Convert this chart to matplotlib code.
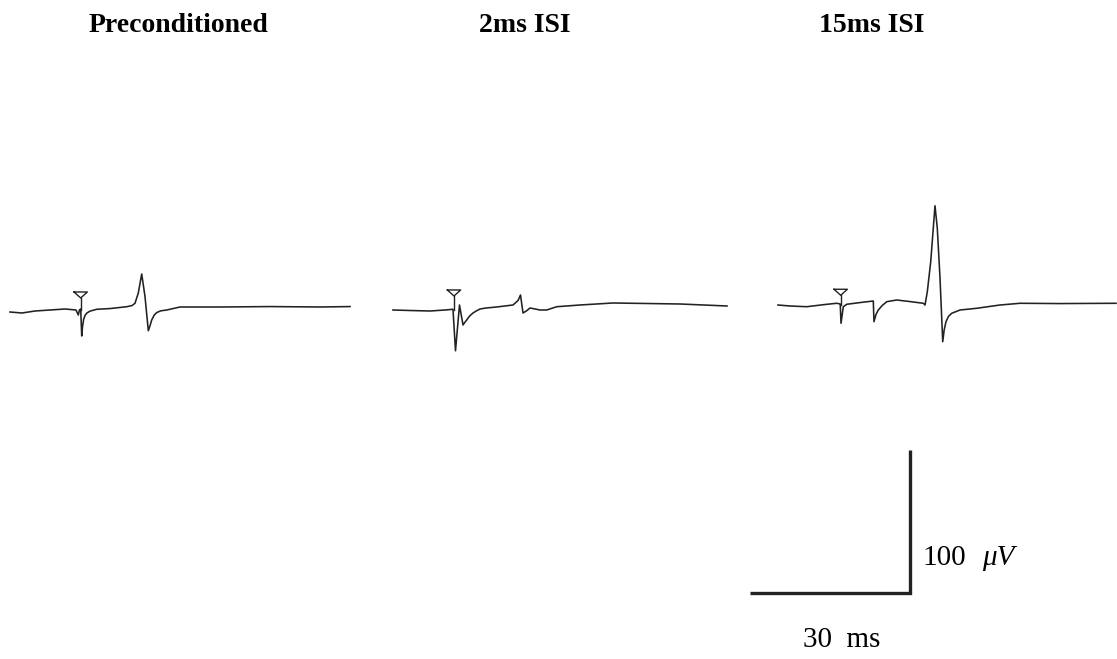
import matplotlib
matplotlib.use("Agg")
import matplotlib.pyplot as plt

# Recorded responses: time (ms, relative to the conditioning stimulus) and amplitude (µV)
titles = ["Preconditioned", "2ms ISI", "15ms ISI"]

pre_t = [-13.26, -11.01, -8.57, -5.76, -2.94, -0.88, -0.45, -0.23, 0.0, 0.19, 0.35, 0.55,
         0.81, 1.2, 1.74, 3.0, 5.49, 8.63, 9.62, 10.18, 10.8, 11.44, 12.06, 12.68, 13.0,
         13.31, 13.8, 14.25, 15.0, 16.13, 18.62, 26.12, 35.5, 44.87, 50.5]
pre_v = [-1.4, -2.1, -0.7, 0.0, 0.7, 0.0, -3.5, 0.0, 0.7, -18.2, -11.5, -6.5,
         -3.8, -2.0, -0.8, 0.5, 1.0, 2.3, 3.1, 4.7, 11.9, 25.2, 9.3, -14.5, -11.0,
         -7.0, -3.5, -1.8, -0.6, 0.0, 2.1, 2.1, 2.4, 2.1, 2.4]

isi2_t = [-11.44, -8.25, -4.5, -1.69, -0.19, 0.28, 1.03, 1.69, 2.0, 2.38, 2.9, 3.56,
          4.2, 4.88, 6.0, 8.0, 11.06, 12.0, 12.47, 12.94, 13.63, 14.25, 14.81, 16.13,
          17.38, 19.26, 23.63, 29.81, 42.38, 51.19]
isi2_v = [0.0, -0.35, -0.7, 0.0, 0.5, -28.5, 3.5, -10.5, -8.8, -7.0, -4.3, -2.1,
          -0.6, 0.7, 1.4, 2.1, 3.5, 6.6, 10.5, -2.1, -0.5, 1.4, 1.0, 0.0,
          0.0, 2.3, 3.5, 4.9, 4.2, 2.8]

isi15_t = [-11.76, -9.51, -6.38, -2.94, -0.75, -0.09, 0.06, 0.49, 1.13, 3.62, 6.11, 6.24,
           6.6, 7.05, 7.8, 8.63, 10.5, 12.99, 15.49, 15.81, 16.24, 16.88, 17.68, 18.11,
           18.62, 19.13, 19.4, 19.74, 20.2, 20.81, 22.37, 25.5, 29.87, 33.62, 41.12, 51.62]
isi15_v = [0.0, -0.7, -1.2, 0.35, 1.2, 0.7, -12.8, -1.2, 0.5, 1.7, 2.8, -11.7,
           -6.8, -3.5, -0.3, 2.3, 3.5, 2.4, 1.2, 0.0, 9.3, 30.3, 69.4, 53.8,
           18.9, -25.7, -17.5, -11.7, -8.0, -5.8, -3.5, -2.3, 0.0, 1.2, 1.0, 1.2]

traces = [(pre_t, pre_v), (isi2_t, isi2_v), (isi15_t, isi15_v)]

# Scale bar values
bar_ms = 30
bar_uv = 100

# ---- layout (figure drawn on a common ms / µV grid) ----
W, H = 1117, 659
PX_PER_MS = 160 / 30.0
PX_PER_UV = 143 / 100.0

fig = plt.figure(figsize=(W / 100, H / 100), dpi=100)
ax = fig.add_axes([0, 0, 1, 1])
ax.set_xlim(0, W / PX_PER_MS)
ax.set_ylim(0, H / PX_PER_UV)
ax.axis("off")


def px_x(p):
    return p / PX_PER_MS


def px_y(p):
    return (H - p) / PX_PER_UV


ink = "#222222"
serif = "Liberation Serif"
stim_x = [px_x(80.7), px_x(454), px_x(840.7)]
base_y = [px_y(310), px_y(310), px_y(305)]
marker_top = [12.6, 14.0, 11.0]   # µV above baseline
title_x = [178, 525, 872]

for (t, v), sx, by, mt, tx, title in zip(traces, stim_x, base_y, marker_top, title_x, titles):
    ax.plot([sx + ti for ti in t], [by + vi for vi in v], color=ink, lw=1.15,
            solid_joinstyle="round")
    # stimulus marker: open inverted triangle with a stem down to the trace
    half_w = 1.25
    tri_h = 4.2
    ax.plot([sx - half_w, sx + half_w, sx, sx - half_w],
            [by + mt, by + mt, by + mt - tri_h, by + mt], color=ink, lw=1.0)
    ax.plot([sx, sx], [by + mt - tri_h, by], color=ink, lw=1.0)
    ax.text(px_x(tx), px_y(25), title, ha="center", va="center",
            fontsize=20, fontweight="bold", family=serif)

# scale bar
x1 = px_x(910)
y0 = px_y(593)
ax.plot([x1 - bar_ms, x1, x1], [y0, y0, y0 + bar_uv], color=ink, lw=2.4,
        solid_joinstyle="miter", solid_capstyle="butt")
ax.text(px_x(922), px_y(558), f"{bar_uv}", ha="left", va="center",
        fontsize=21, family=serif)
ax.text(px_x(982), px_y(558), "μV", ha="left", va="center",
        fontsize=21, family=serif, style="italic")
ax.text(px_x(842), px_y(640), f"{bar_ms}  ms", ha="center", va="center",
        fontsize=21, family=serif)

fig.savefig("out.png", dpi=100, facecolor="white")
